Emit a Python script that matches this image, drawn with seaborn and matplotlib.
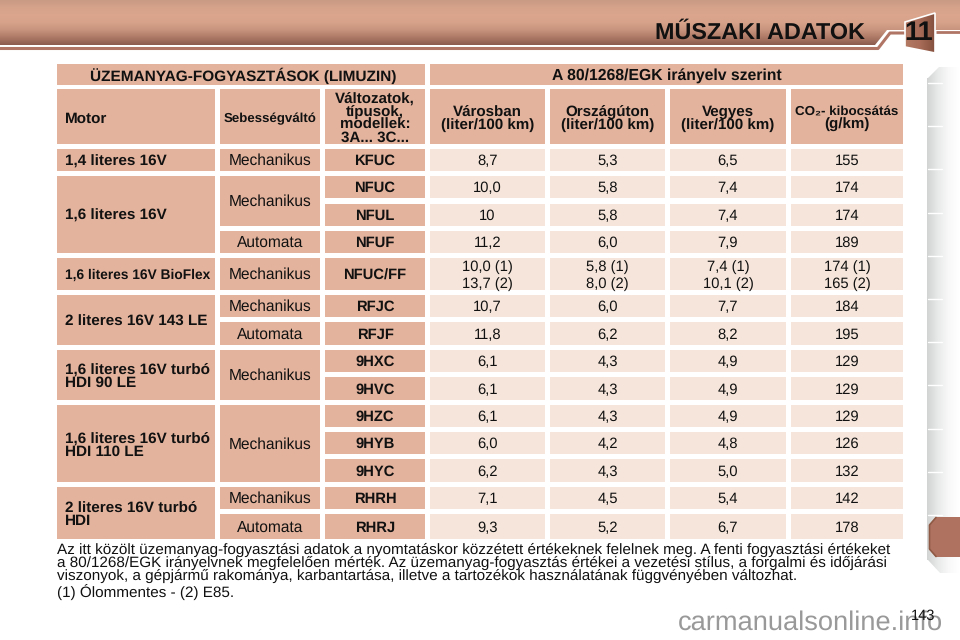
import matplotlib
matplotlib.use("Agg")
import numpy as np
import matplotlib.pyplot as plt
from matplotlib.patches import Polygon, Rectangle
import seaborn as sns

sns.set_theme(style="white")
plt.rcParams['font.family'] = ['Liberation Sans', 'DejaVu Sans']
plt.rcParams['text.hinting'] = 'no_hinting'

# table data
group_title = "ÜZEMANYAG-FOGYASZTÁSOK (LIMUZIN)"
norm_title = "A 80/1268/EGK irányelv szerint"
headers = ["Városban\n(liter/100 km)", "Országúton\n(liter/100 km)", "Vegyes\n(liter/100 km)"]
co2_head = ["CO₂- kibocsátás", "(g/km)"]
motors = ["1,4 literes 16V", "1,6 literes 16V", "1,6 literes 16V BioFlex",
          "2 literes 16V 143 LE", "1,6 literes 16V turbó\nHDI 90 LE",
          "1,6 literes 16V turbó\nHDI 110 LE", "2 literes 16V turbó\nHDI"]
motor_rows = [1, 3, 1, 2, 2, 3, 2]
gearboxes = ["Mechanikus", "Mechanikus", "Automata", "Mechanikus", "Mechanikus",
             "Automata", "Mechanikus", "Mechanikus", "Mechanikus", "Automata"]
gearbox_rows = [1, 2, 1, 1, 1, 1, 2, 3, 1, 1]
codes = ["KFUC", "NFUC", "NFUL", "NFUF", "NFUC/FF", "RFJC", "RFJF", "9HXC",
         "9HVC", "9HZC", "9HYB", "9HYC", "RHRH", "RHRJ"]
city = ["8,7", "10,0", "10", "11,2", "10,0 (1)\n13,7 (2)", "10,7", "11,8", "6,1",
        "6,1", "6,1", "6,0", "6,2", "7,1", "9,3"]
road = ["5,3", "5,8", "5,8", "6,0", "5,8 (1)\n8,0 (2)", "6,0", "6,2", "4,3",
        "4,3", "4,3", "4,2", "4,3", "4,5", "5,2"]
mixed = ["6,5", "7,4", "7,4", "7,9", "7,4 (1)\n10,1 (2)", "7,7", "8,2", "4,9",
         "4,9", "4,9", "4,8", "5,0", "5,4", "6,7"]
co2 = ["155", "174", "174", "189", "174 (1)\n165 (2)", "184", "195", "129",
       "129", "129", "126", "132", "142", "178"]
notes = ["Az itt közölt üzemanyag-fogyasztási adatok a nyomtatáskor közzétett értékeknek felelnek meg. A fenti fogyasztási értékeket",
         "a 80/1268/EGK irányelvnek megfelelően mérték. Az üzemanyag-fogyasztás értékei a vezetési stílus, a forgalmi és időjárási",
         "viszonyok, a gépjármű rakománya, karbantartása, illetve a tartozékok használatának függvényében változhat."]
footnote = "(1) Ólommentes - (2) E85."

# layout, in pixels of the page
col_x = [(57, 215), (220, 320), (325, 425), (430, 545), (550, 665), (670, 786), (791, 903)]
row_y = [(149, 171), (176, 198), (204, 226), (231, 253), (258, 290), (295, 317), (322, 345),
         (350, 372), (377, 400), (405, 427), (432, 454), (459, 482), (487, 509), (514, 539)]
DARK = "#e3b39d"
LIGHT = "#f5e5da"
BLACK = "#111111"
W, H = 960, 640

fig = plt.figure(figsize=(9.6, 6.4), dpi=100, facecolor="white")


def px_axes(x0, y0, x1, y1, **kw):
    return fig.add_axes([x0 / W, 1 - y1 / H, (x1 - x0) / W, (y1 - y0) / H], **kw)


# title band
band_cmap = sns.blend_palette(["#c99a84", "#d6a28a", "#daa58c", "#d6a289", "#c7937d",
                               "#ae7a67", "#8d5c4f"], as_cmap=True)
ax_band = px_axes(0, 0, W, 45)
sns.heatmap(np.linspace(0, 1, 45)[:, None], cmap=band_cmap, cbar=False, ax=ax_band,
            xticklabels=False, yticklabels=False, rasterized=True)

# tab strip on the right
strip_cmap = sns.blend_palette(["#d2d4d4", "#e8e9e9", "#f8f8f8", "#ffffff"], as_cmap=True)
ax_strip = px_axes(927, 67, 960, 573)
sns.heatmap(np.linspace(0, 1, 33)[None, :], cmap=strip_cmap, cbar=False, ax=ax_strip,
            xticklabels=False, yticklabels=False, rasterized=True)

ax = px_axes(0, 0, W, H, zorder=5)
ax.axis("off")
ax.patch.set_alpha(0)

# step in the band, rule below it and the chapter box
ax.add_patch(Polygon([(875, 45), (887, 30), (W, 30), (W, 46), (0, 46), (0, 45)], fc="white", ec="none"))
ax.plot([0, 878, 890, 905], [48.5, 48.5, 33, 33], color="#b07565", lw=2.2, solid_capstyle="butt")
ax.plot([936, W], [32, 32], color="#b07565", lw=2.0, solid_capstyle="butt")
box_cmap = sns.blend_palette(["#b47a64", "#a86c58", "#85513e"], as_cmap=True)
box = Polygon([(905, 22), (935, 13), (935, 53), (905, 47)], fc="none", ec="white", lw=1.2, zorder=3)
ax.add_patch(box)
box_img = ax.imshow(np.linspace(0, 1, 31)[None, :], cmap=box_cmap, extent=(905, 935, 53, 13),
                    aspect="auto", zorder=2)
box_img.set_clip_path(box)
ax.set_xlim(0, W)
ax.set_ylim(H, 0)
ax.text(918.5, 33, "11", fontsize=19.5, fontweight="bold", color=BLACK, ha="center", va="center", zorder=4)

# strip chamfers, tick marks and brown tab
ax.add_patch(Polygon([(926, 66), (940, 66), (928, 78), (926, 78)], fc="white", ec="none"))
ax.add_patch(Polygon([(926, 560), (928, 560), (941, 574), (926, 574)], fc="white", ec="none"))
for tick in range(11):
    ax.plot([928, 942], [83 + tick * 43.2] * 2, color="white", lw=1)
ax.add_patch(Polygon([(929, 525), (936, 517), (W, 517), (W, 557), (936, 557), (929, 549)],
                     fc="#b07260", ec="none"))
ax.plot([936, 929.5, 929.5, 936], [517.5, 525, 549, 556.5], color="#8f5a45", lw=1.2)


def cell(c0, c1, y0, y1, color):
    ax.add_patch(Rectangle((col_x[c0][0], y0), col_x[c1][1] - col_x[c0][0], y1 - y0, fc=color, ec="none"))


def centre(c):
    return sum(col_x[c]) / 2


# every line sits on its own baseline so commas do not shift the digits
def label(x, y, s, size=10.6, bold=False, ha="center", step=13):
    lines = s.split("\n")
    for k, line in enumerate(lines):
        base = y + (k - (len(lines) - 1) / 2) * step + 0.36 * size * 100 / 72
        t = ax.text(x, base, line, fontsize=size, fontweight="bold" if bold else "normal",
                    color=BLACK, ha=ha, va="baseline")
    return t


label(865, 30, "MŰSZAKI ADATOK", size=16.8, bold=True, ha="right")

# header rows
cell(0, 2, 64, 84.5, DARK)
cell(3, 6, 64, 84.5, DARK)
label(243, 75.5, group_title, size=11.1, bold=True)
label((430 + 903) / 2, 75.5, norm_title, size=11.3, bold=True)
for c in range(7):
    cell(c, c, 89, 144, DARK)
label(65, 117.5, "Motor", size=11, bold=True, ha="left")
label(centre(1), 117.5, "Sebességváltó", size=9.5, bold=True)
label(centre(2), 116.5, "Változatok,\ntípusok,\nmodellek:\n3A... 3C...", size=10.9, bold=True)
for c, head in zip(range(3, 6), headers):
    label(centre(c), 116.5, head, size=10.9, bold=True)
label(centre(6), 110, co2_head[0], size=9.6, bold=True)
label(centre(6), 123, co2_head[1], size=10.9, bold=True)

# motor, gearbox and code columns use merged cells
start = 0
for motor, span in zip(motors, motor_rows):
    y0, y1 = row_y[start][0], row_y[start + span - 1][1]
    cell(0, 0, y0, y1, DARK)
    size = 9.9 if "BioFlex" in motor else 10.95
    label(65, (y0 + y1) / 2, motor, size=size, bold=True, ha="left")
    start += span
start = 0
for gearbox, span in zip(gearboxes, gearbox_rows):
    y0, y1 = row_y[start][0], row_y[start + span - 1][1]
    cell(1, 1, y0, y1, DARK)
    label(centre(1), (y0 + y1) / 2 - 0.5, gearbox, size=11.2)
    start += span
for i, (y0, y1) in enumerate(row_y):
    cell(2, 2, y0, y1, DARK)
    label(centre(2), (y0 + y1) / 2, codes[i], bold=True)
    for c, series in zip(range(3, 7), [city, road, mixed, co2]):
        cell(c, c, y0, y1, LIGHT)
        label(centre(c), (y0 + y1) / 2, series[i], step=17)

# footer, the first two lines are sized to about the table width like justified text
for line, y, size in zip(notes, [548, 561.5, 574.5], [10.95, 10.98, 10.95]):
    label(57, y, line, size=size, ha="left")
label(57, 591.5, footnote, size=10.95, ha="left")

# page number and watermark
ax.text(943, 623, "carmanualsonline.info", fontsize=19.6, color="#999999", ha="right", va="center")
ax.text(923, 615.5, "143", fontsize=10.5, color=BLACK, ha="center", va="center")

fig.savefig("out.png", dpi=100)
